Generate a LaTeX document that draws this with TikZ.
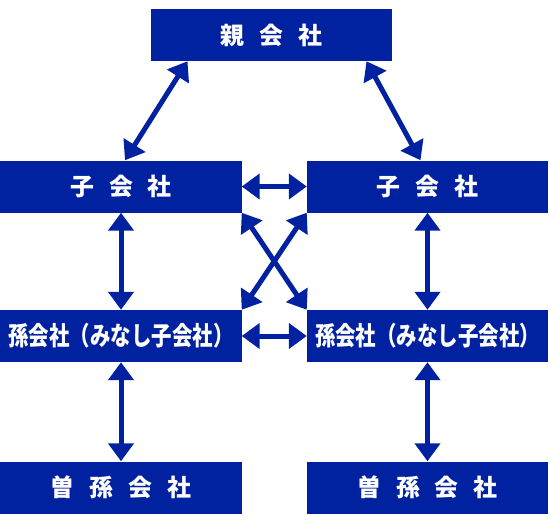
\documentclass[tikz,border=0pt]{standalone}
\usepackage{fontspec}
\newfontfamily\jp{Noto Sans CJK JP}
\usepackage{xcolor}
\usepackage{graphicx}
\usepackage{tikz}
\usetikzlibrary{calc,arrows.meta}
\definecolor{kblue}{RGB}{0,34,160}
\newcommand\gap{\hspace{0.62em}}
\newcommand\narrow[1]{\scalebox{0.79}[1]{\fontsize{22.1}{24}\selectfont #1}}

\begin{document}
\begin{tikzpicture}[
x=0.03cm,y=-0.03cm,
box/.style={rectangle, fill=kblue, text=white, inner sep=0pt, minimum width=7.23cm, minimum height=1.56cm, font=\jp\bfseries\fontsize{20.4}{22}\selectfont},
link/.style={<->, >={Triangle[length=0.54cm,width=0.75cm]}, line width=0.15cm, kblue},
]

%canvas
\fill[white] (0,0) rectangle (550,526);
\useasboundingbox (0,0) rectangle (550,526);

%draw companies
\node(par)[box]     at (271.5,35)   {親\gap 会\gap 社};
\node(ko1)[box]     at (121,186.5)  {子\gap 会\gap 社};
\node(ko2)[box]     at (427.5,186.5){子\gap 会\gap 社};
\node(mago1)[box]   at (121,336)    {\narrow{孫会社（みなし子会社）}};
\node(mago2)[box]   at (427.5,336)  {\narrow{孫会社（みなし子会社）}};
\node(himago1)[box] at (121,487.5)  {曽\gap 孫\gap 会\gap 社};
\node(himago2)[box] at (427.5,487.5){曽\gap 孫\gap 会\gap 社};

%draw links
\draw[link] ($(par.south)+(-84,0)$) -- ($(ko1.north)+(4,0)$);
\draw[link] ($(par.south)+(95,0)$) -- ($(ko2.north)+(-7,0)$);
\draw[link] (ko1.east) -- (ko2.west);
\draw[link] (ko1.south east) -- (mago2.north west);
\draw[link] (ko2.south west) -- (mago1.north east);
\draw[link] (mago1.east) -- (mago2.west);
\draw[link] (ko1.south) -- (mago1.north);
\draw[link] (ko2.south) -- (mago2.north);
\draw[link] (mago1.south) -- (himago1.north);
\draw[link] (mago2.south) -- (himago2.north);

\end{tikzpicture}
\end{document}
